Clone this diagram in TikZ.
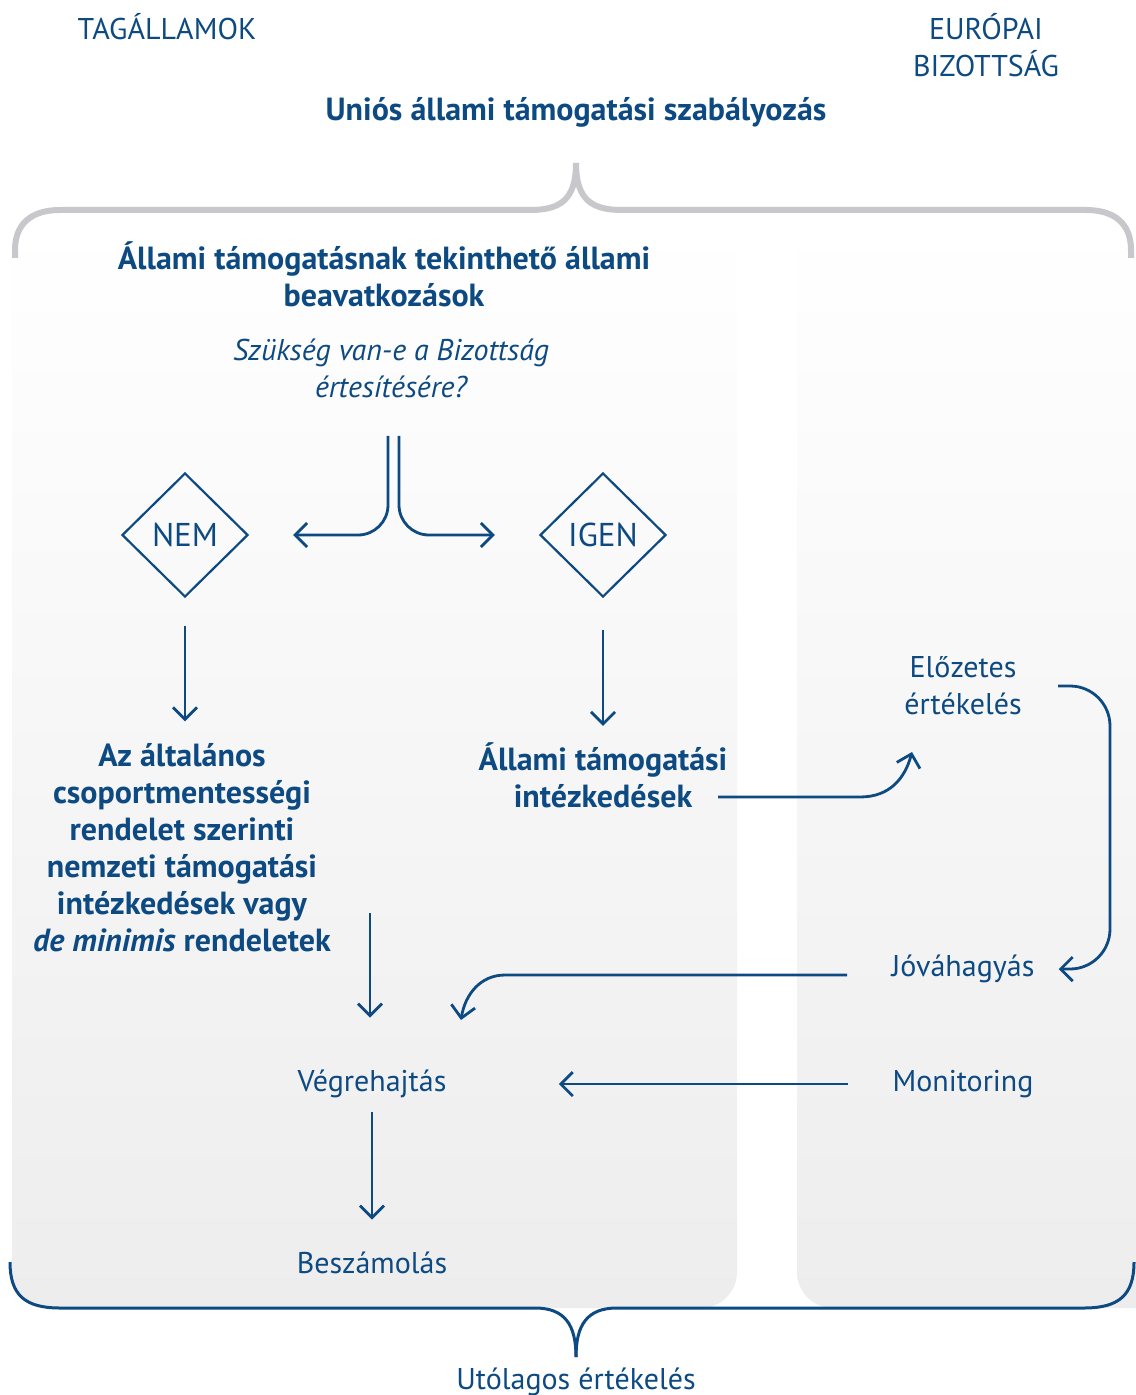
\documentclass[tikz,border=0pt]{standalone}
\usepackage{fontspec}
\setmainfont{PT Sans}
\usepackage{xcolor}
\usetikzlibrary{arrows.meta,positioning,shapes.geometric}
\definecolor{eublue}{RGB}{14,74,130}
\definecolor{bracegray}{RGB}{200,200,204}
\definecolor{panelgray}{RGB}{237,237,237}

\begin{document}
\begin{tikzpicture}[x=0.5pt,y=-0.5pt]

\tikzstyle{lbl} = [text=eublue, font=\fontsize{15}{18.5}\selectfont, align=center, inner sep=0pt]
\tikzstyle{hdr} = [lbl, font=\fontsize{16}{18.5}\selectfont\bfseries]
\tikzstyle{choice} = [draw=eublue, line width=1.1pt, diamond, minimum width=63pt, minimum height=62pt, inner sep=0pt, text=eublue, font=\fontsize{16.5}{18}\selectfont]
\tikzstyle{arr} = [draw=eublue, line width=1.4pt, -{Straight Barb[length=6pt,width=12pt]}]

\useasboundingbox (0,0) rectangle (1135,1395);

% panels
\shade[top color=white, bottom color=panelgray, rounded corners=18pt] (12,220) rectangle (737,1308);
\shade[top color=white, bottom color=panelgray, rounded corners=18pt] (797,220) rectangle (1170,1308);

% braces
\draw[bracegray, line width=3pt] (15,258) -- (15,250) .. controls (15,225) and (30,210) .. (60,210) -- (530,210) .. controls (560,210) and (576,200) .. (576,163);
\draw[bracegray, line width=3pt] (1131,258) -- (1131,250) .. controls (1131,225) and (1116,210) .. (1086,210) -- (622,210) .. controls (592,210) and (576,200) .. (576,163);
\draw[eublue, line width=1.5pt] (10,1262) .. controls (10,1295) and (25,1308) .. (60,1308) -- (535,1308) .. controls (565,1308) and (576,1325) .. (576,1357);
\draw[eublue, line width=1.5pt] (1134,1262) .. controls (1134,1295) and (1119,1308) .. (1084,1308) -- (617,1308) .. controls (587,1308) and (576,1325) .. (576,1357);
\coordinate (tip) at (576,1357);

% headings
\node [lbl] (tag) at (167,27) {TAGÁLLAMOK};
\node [lbl] (eb) at (986,45) {EURÓPAI\\BIZOTTSÁG};
\node [hdr] (unios) at (576,112) {Uniós állami támogatási szabályozás};

% member state side
\node [hdr] (beav) at (384,274) {Állami támogatásnak tekinthető állami\\beavatkozások};
\node [lbl, font=\fontsize{15}{18.5}\selectfont\itshape] (kerdes) at (391,368) {Szükség van-e a Bizottság\\értesítésére?};
\node [choice] (nem) at (185,535) {NEM};
\node [choice] (igen) at (603,535) {IGEN};
\node [hdr] (gber) at (182,848) {Az általános\\csoportmentességi\\rendelet szerinti\\nemzeti támogatási\\intézkedések vagy\\\textit{de minimis} rendeletek};
\node [hdr] (ati) at (603,775) {Állami támogatási\\intézkedések};
\node [lbl] (veg) at (372,1084) {Végrehajtás};
\node [lbl, below = 89.5pt of veg.center, anchor=center] (besz) {Beszámolás};
\node [lbl, below = 5pt of tip] (utol) {Utólagos értékelés};

% commission side
\node [lbl] (elo) at (963,686) {Előzetes\\értékelés};
\node [lbl] (jov) at (963,969) {Jóváhagyás};
\node [lbl] (mon) at (963,1084) {Monitoring};

\coordinate (a1) at (718,797);
\coordinate (a2) at (912,752);
\coordinate (r1) at (1110,686);
\coordinate (b1) at (847,975);
\coordinate (b2) at (461,1020);
\coordinate (g1) at (370,913);

\draw [arr, rounded corners=15pt, shorten <=19pt, shorten >=22pt] ([xshift=-1.5pt]kerdes.south) |- (nem.east);
\draw [arr, rounded corners=15pt, shorten <=19pt, shorten >=22pt] ([xshift=4pt]kerdes.south) |- (igen.west);
\draw [arr, shorten <=14pt, shorten >=11pt] (nem.south) -- (nem.south |- gber.north);
\draw [arr, shorten <=16pt, shorten >=8pt] (igen.south) -- (igen.south |- ati.north);
\draw [arr] (a1) -- (860,797) .. controls (890,797) and (905,778) .. (a2);
\draw [arr, rounded corners=20pt, shorten <=18pt, shorten >=12pt] (elo.east) -- (r1) |- (jov.east);
\draw [arr] (b1) -- (505,975) .. controls (480,975) and (465,995) .. (b2);
\draw [arr, shorten >=26pt] (g1) -- (g1 |- veg.north);
\draw [arr, shorten <=22pt, shorten >=56pt] (mon.west) -- (veg.east);
\draw [arr, shorten <=7pt, shorten >=16pt] (veg.south) -- (besz.north);
\end{tikzpicture}
\end{document}
